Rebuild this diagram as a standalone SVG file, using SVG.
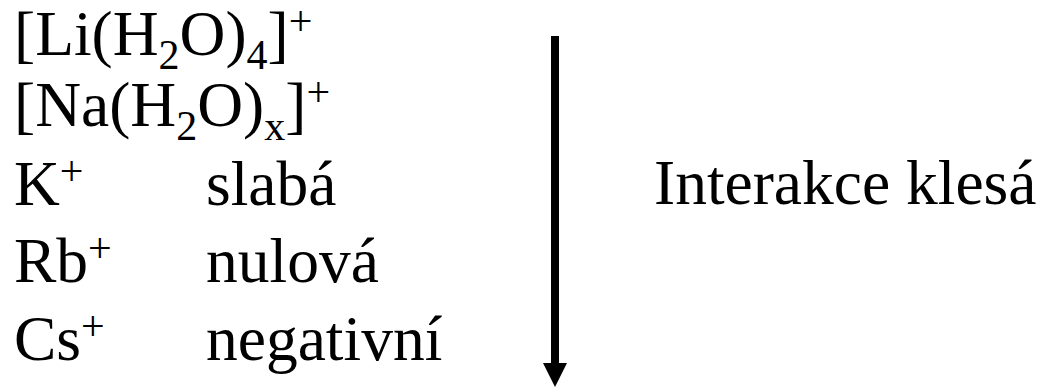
<svg xmlns="http://www.w3.org/2000/svg" width="1045" height="387" viewBox="0 0 1045 387">
<style>
.t{font-family:"Liberation Serif","Times New Roman",serif;font-size:63.5px;fill:#000}
.s{font-size:42px}
</style>
<rect width="1045" height="387" fill="#fff"/>
<g id="ions">
<text class="t" x="14" y="55">[Li(H<tspan class="s" dy="14">2</tspan><tspan dy="-14">O)</tspan><tspan class="s" dy="14">4</tspan><tspan dy="-14">]</tspan><tspan class="s" dy="-20">+</tspan></text>
<text class="t" x="14" y="126">[Na(H<tspan class="s" dy="14">2</tspan><tspan dy="-14">O)</tspan><tspan class="s" dy="14">x</tspan><tspan dy="-14">]</tspan><tspan class="s" dy="-20">+</tspan></text>
<text class="t" x="14" y="205">K<tspan class="s" dy="-20">+</tspan></text>
<text class="t" x="14" y="282">Rb<tspan class="s" dy="-20">+</tspan></text>
<text class="t" x="14" y="360">Cs<tspan class="s" dy="-20">+</tspan></text>
</g>
<g id="labels">
<text class="t" x="206" y="205">slabá</text>
<text class="t" x="206" y="282">nulová</text>
<text class="t" x="206" y="360">negativní</text>
</g>
<g id="trend">
<text class="t" x="654" y="204">Interakce klesá</text>
</g>
<g id="connectors">
<rect x="551" y="36" width="8" height="329" fill="#000"/>
<polygon points="543,363 567,363 555,387" fill="#000"/>
</g>
</svg>
